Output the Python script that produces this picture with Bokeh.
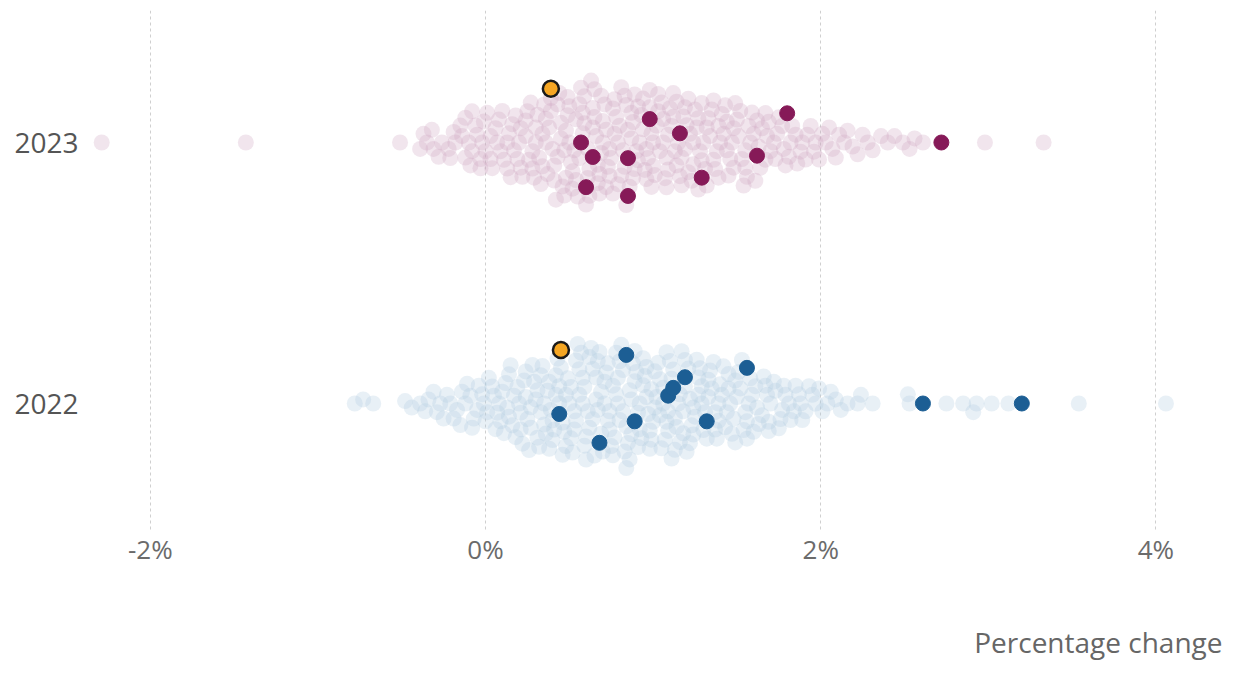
import numpy as np
from bokeh.plotting import figure
from bokeh.models import Range1d, FixedTicker, PrintfTickFormatter, Title, ColumnDataSource
from bokeh.embed import file_html
from bokeh.resources import INLINE

# ---------------- data (percentage change) ----------------
years = ["2023", "2022"]
tick_values = [-2, 0, 2, 4]
axis_title = "Percentage change"

bg_2023 = [-2.29, -1.43, -0.51,
    -0.39, -0.37, -0.35, -0.32, -0.31,
    -0.28, -0.26, -0.22, -0.21,
    -0.19, -0.18, -0.15, -0.14, -0.12, -0.12, -0.10,
    -0.09, -0.08, -0.08, -0.06, -0.05, -0.03, -0.03, -0.02, -0.01,
    0.00, 0.01, 0.03, 0.03, 0.04, 0.06, 0.07, 0.08, 0.09,
    0.10, 0.11, 0.13, 0.13, 0.14, 0.15, 0.16, 0.17, 0.18, 0.19,
    0.20, 0.21, 0.21, 0.22, 0.24, 0.24, 0.25, 0.26, 0.27, 0.28, 0.28, 0.29,
    0.30, 0.30, 0.31, 0.32, 0.33, 0.34, 0.34, 0.35, 0.36, 0.36, 0.37, 0.38, 0.39, 0.39,
    0.40, 0.41, 0.41, 0.42, 0.43, 0.43, 0.44, 0.45, 0.45, 0.46, 0.47, 0.47, 0.48, 0.48, 0.49, 0.49,
    0.50, 0.50, 0.51, 0.52, 0.52, 0.53, 0.54, 0.54, 0.55, 0.56, 0.56, 0.57, 0.58, 0.58, 0.59, 0.59,
    0.60, 0.61, 0.61, 0.62, 0.62, 0.63, 0.64, 0.64, 0.65, 0.65, 0.66, 0.67, 0.67, 0.68, 0.68, 0.69, 0.69,
    0.70, 0.70, 0.71, 0.72, 0.72, 0.73, 0.74, 0.74, 0.75, 0.76, 0.76, 0.77, 0.77, 0.78, 0.79, 0.79,
    0.80, 0.81, 0.81, 0.82, 0.83, 0.83, 0.84, 0.84, 0.85, 0.86, 0.87, 0.87, 0.88, 0.88, 0.89, 0.89,
    0.90, 0.91, 0.91, 0.92, 0.93, 0.94, 0.94, 0.95, 0.96, 0.96, 0.97, 0.98, 0.98, 0.99, 0.99,
    1.00, 1.00, 1.01, 1.02, 1.03, 1.03, 1.04, 1.05, 1.06, 1.06, 1.07, 1.08, 1.08, 1.09, 1.09,
    1.10, 1.11, 1.12, 1.12, 1.13, 1.14, 1.14, 1.15, 1.16, 1.17, 1.17, 1.18, 1.19, 1.19,
    1.20, 1.21, 1.21, 1.22, 1.23, 1.24, 1.24, 1.25, 1.26, 1.27, 1.27, 1.28, 1.29, 1.29,
    1.30, 1.31, 1.32, 1.32, 1.33, 1.34, 1.35, 1.36, 1.36, 1.37, 1.38, 1.39, 1.39,
    1.40, 1.41, 1.42, 1.43, 1.44, 1.44, 1.45, 1.46, 1.47, 1.48, 1.48, 1.49,
    1.50, 1.51, 1.52, 1.53, 1.54, 1.55, 1.55, 1.56, 1.57, 1.58, 1.59,
    1.60, 1.61, 1.62, 1.63, 1.64, 1.65, 1.67, 1.67, 1.68, 1.69,
    1.70, 1.72, 1.73, 1.74, 1.75, 1.77, 1.78, 1.79,
    1.81, 1.82, 1.83, 1.85, 1.86, 1.88, 1.89,
    1.91, 1.92, 1.94, 1.96, 1.97, 1.99,
    2.01, 2.03, 2.05, 2.07, 2.09,
    2.11, 2.14, 2.16, 2.19,
    2.22, 2.25, 2.28,
    2.31, 2.36, 2.40, 2.44, 2.49, 2.53, 2.56, 2.61,
    2.98, 3.33]

bg_2022 = [-0.78, -0.73, -0.67,
    -0.48, -0.44,
    -0.39, -0.36, -0.34, -0.31,
    -0.29, -0.27, -0.25, -0.23, -0.21,
    -0.19, -0.17, -0.15, -0.14, -0.12, -0.11,
    -0.09, -0.08, -0.07, -0.05, -0.04, -0.02, -0.01,
    0.00, 0.01, 0.02, 0.04, 0.05, 0.06, 0.07, 0.08, 0.09,
    0.10, 0.11, 0.12, 0.13, 0.14, 0.14, 0.15, 0.16, 0.17, 0.18, 0.19,
    0.20, 0.21, 0.21, 0.22, 0.23, 0.24, 0.24, 0.25, 0.26, 0.27, 0.27, 0.28, 0.29,
    0.30, 0.31, 0.31, 0.32, 0.33, 0.33, 0.34, 0.35, 0.35, 0.36, 0.37, 0.38, 0.38, 0.39,
    0.40, 0.40, 0.41, 0.42, 0.42, 0.43, 0.44, 0.44, 0.45, 0.46, 0.46, 0.47, 0.48, 0.48, 0.49,
    0.50, 0.51, 0.51, 0.52, 0.53, 0.53, 0.54, 0.54, 0.55, 0.56, 0.56, 0.57, 0.58, 0.58, 0.59, 0.59,
    0.60, 0.60, 0.61, 0.62, 0.62, 0.63, 0.64, 0.64, 0.65, 0.66, 0.66, 0.67, 0.67, 0.68, 0.69, 0.69,
    0.70, 0.71, 0.71, 0.72, 0.73, 0.73, 0.74, 0.74, 0.75, 0.76, 0.76, 0.77, 0.78, 0.78, 0.79, 0.79,
    0.80, 0.80, 0.81, 0.82, 0.82, 0.83, 0.84, 0.84, 0.85, 0.86, 0.86, 0.87, 0.87, 0.88, 0.89, 0.89,
    0.90, 0.91, 0.91, 0.92, 0.92, 0.93, 0.94, 0.94, 0.95, 0.96, 0.96, 0.97, 0.98, 0.98, 0.99, 0.99,
    1.00, 1.01, 1.01, 1.02, 1.03, 1.04, 1.04, 1.05, 1.06, 1.06, 1.07, 1.08, 1.08, 1.09, 1.09,
    1.10, 1.11, 1.11, 1.12, 1.13, 1.13, 1.14, 1.15, 1.16, 1.16, 1.17, 1.18, 1.18, 1.19, 1.19,
    1.20, 1.21, 1.22, 1.22, 1.23, 1.24, 1.24, 1.25, 1.26, 1.27, 1.27, 1.28, 1.29, 1.29,
    1.30, 1.31, 1.32, 1.33, 1.33, 1.34, 1.35, 1.36, 1.37, 1.37, 1.38, 1.39, 1.39,
    1.40, 1.41, 1.42, 1.43, 1.44, 1.45, 1.45, 1.46, 1.47, 1.48, 1.49, 1.49,
    1.50, 1.51, 1.52, 1.53, 1.54, 1.55, 1.56, 1.56, 1.57, 1.58, 1.59,
    1.60, 1.61, 1.62, 1.63, 1.65, 1.66, 1.67, 1.68, 1.69, 1.69,
    1.70, 1.72, 1.73, 1.75, 1.76, 1.77, 1.78, 1.79,
    1.81, 1.82, 1.84, 1.85, 1.87, 1.88, 1.89,
    1.91, 1.93, 1.95, 1.97, 1.99,
    2.01, 2.04, 2.06, 2.09,
    2.12, 2.16, 2.22,
    2.24, 2.31,
    2.52, 2.53, 2.75, 2.85, 2.91, 2.93, 3.02, 3.12, 3.54, 4.06]

hl_2023 = [0.57, 0.60, 0.85, 0.85, 0.98, 1.16, 1.29, 1.62, 1.80, 2.72, 0.64]
hl_2022 = [0.44, 0.84, 1.32, 1.09, 0.68, 0.89, 1.56, 1.19, 1.12, 2.61, 3.20]
focus_2023 = 0.39
focus_2022 = 0.45

# ---------------- geometry ----------------
W, H = 1224, 663
FL, FR, FT, FB = 90, 2, 10, 131           # frame borders (px)
FW = W - FL - FR
FH = H - FT - FB
X0_PX = 485                               # pixel (from figure left) where 0% sits
PX_PER_UNIT = 167.6
x_start = -(X0_PX - FL) / PX_PER_UNIT
x_end = x_start + FW / PX_PER_UNIT
row_y = {"2023": 142, "2022": 403}       # y range is in figure pixels (top = 0)


def swarm(xs, d, up_only=()):
    """Greedy beeswarm layout: vertical offsets (px, negative = up) so that no two dots
    are closer than d. Indices in up_only are placed last, on the upper side."""
    xs_px = np.asarray(xs) * PX_PER_UNIT
    n = len(xs_px)
    order = [int(i) for i in np.argsort((np.arange(n) * 0.6180339887) % 1.0) if i not in up_only]
    order += list(up_only)
    ys = np.zeros(n)
    px_list, py_list = [], []
    for k, i in enumerate(order):
        x = xs_px[i]
        near = []
        cands = [0.0]
        for qx, qy in zip(px_list, py_list):
            dx = abs(qx - x)
            if dx < d:
                h = np.sqrt(d * d - dx * dx)
                near.append((qy, h))
                cands.extend([qy + h, qy - h])
        if i in up_only:
            cands = [c for c in cands if c <= 0]
        sgn = 1 if k % 2 else -1
        cands.sort(key=lambda c: (round(abs(c), 6), sgn * c))
        for c in cands:
            if all(abs(c - qy) >= h - 1e-6 for qy, h in near):
                ys[i] = c
                break
        px_list.append(x)
        py_list.append(ys[i])
    return ys


D = 9.3
p = figure(width=W, height=H, output_backend="svg", toolbar_location=None,
           x_range=Range1d(x_start, x_end), y_range=Range1d(FT + FH, FT),
           min_border_left=FL, min_border_right=FR, min_border_top=FT, min_border_bottom=FB)
p.outline_line_color = None
p.background_fill_color = "white"
p.border_fill_color = "white"

styles = {
    "2023": dict(bg="#d2aac2", hl="#861a58"),
    "2022": dict(bg="#b4cde0", hl="#1c5e94"),
}
data = {
    "2023": (bg_2023, hl_2023, focus_2023),
    "2022": (bg_2022, hl_2022, focus_2022),
}

hl_sources, focus_sources = [], []
for yr in years:
    bg, hl, foc = data[yr]
    allx = list(bg) + list(hl) + [foc]
    offs = swarm(allx, D, up_only=(len(allx) - 1,))
    ys = row_y[yr] + offs
    nb, nh = len(bg), len(hl)
    src_bg = ColumnDataSource(dict(x=allx[:nb], y=ys[:nb]))
    p.scatter("x", "y", source=src_bg, size=16, fill_color=styles[yr]["bg"], fill_alpha=0.3,
              line_color=None)
    hl_sources.append((ColumnDataSource(dict(x=allx[nb:nb + nh], y=ys[nb:nb + nh])), styles[yr]["hl"]))
    focus_sources.append(ColumnDataSource(dict(x=[foc], y=[ys[-1]])))

for src, col in hl_sources:
    p.scatter("x", "y", source=src, size=15, fill_color=col, line_color=col, line_width=1)
for src in focus_sources:
    p.scatter("x", "y", source=src, size=16, fill_color="#f5a623", line_color="#1a1a1a", line_width=2.5)

# x axis / grid
p.xaxis.ticker = FixedTicker(ticks=tick_values)
p.xaxis.formatter = PrintfTickFormatter(format="%d%%")
p.xaxis.axis_line_color = None
p.xaxis.major_tick_line_color = None
p.xaxis.minor_tick_line_color = None
p.xaxis.major_tick_out = 0
p.xaxis.major_tick_in = 0
p.xaxis.major_label_text_font = "Open Sans"
p.xaxis.major_label_text_font_size = "26px"
p.xaxis.major_label_text_color = "#6b6b6b"
p.xaxis.major_label_standoff = -2
# invisible axis label used only as vertical spacing before the axis title
p.xaxis.axis_label = "\u00a0"
p.xaxis.axis_label_text_font_size = "10px"
p.xaxis.axis_label_standoff = 34
p.xgrid.ticker = FixedTicker(ticks=tick_values)
p.xgrid.grid_line_color = "#cfcfcf"
p.xgrid.grid_line_dash = "3 3"
p.xgrid.grid_line_width = 1
p.ygrid.grid_line_color = None

# y axis (rows)
p.yaxis.ticker = FixedTicker(ticks=[row_y[y] for y in years])
p.yaxis.major_label_overrides = {row_y[y]: y for y in years}
p.yaxis.axis_line_color = None
p.yaxis.major_tick_line_color = None
p.yaxis.minor_tick_line_color = None
p.yaxis.major_tick_out = 0
p.yaxis.major_tick_in = 0
p.yaxis.major_label_text_font = "Open Sans"
p.yaxis.major_label_text_font_size = "28px"
p.yaxis.major_label_text_color = "#555555"
p.yaxis.major_label_standoff = 12

p.add_layout(Title(text=axis_title, align="right", vertical_align="bottom", text_font="Open Sans",
                   text_font_size="28px", text_font_style="normal", text_color="#666666",
                   standoff=6), "below")

open("out.html", "w").write(file_html(p, INLINE))
